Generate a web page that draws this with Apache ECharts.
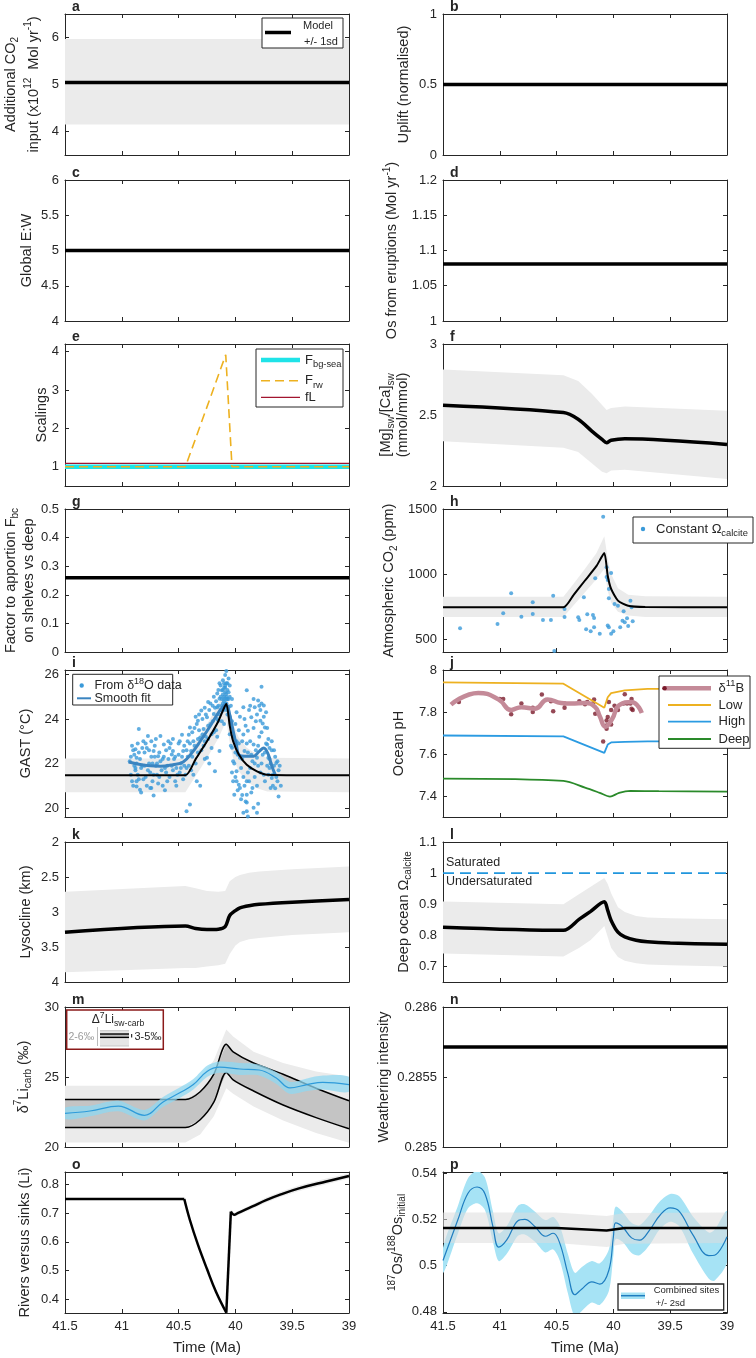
<!DOCTYPE html>
<html><head><meta charset="utf-8">
<script src="https://cdn.jsdelivr.net/npm/echarts@6/dist/echarts.min.js"></script>
<style>html,body{margin:0;padding:0;background:#fff}#c{width:756px;height:1358px}</style>
</head><body><div id="c"></div>
<script>
// ================= DATA =================
const xTicks = [41.5, 41, 40.5, 40, 39.5, 39];
const flatT = [41.5, 39];
// a
const aTicks = [4, 5, 6];
const aModel = [5.04, 5.04];
const aLo = [4.15, 4.15];
const aHi = [5.97, 5.97];
// b
const bTicks = [0, 0.5, 1];
const bModel = [0.5, 0.5];
// c
const cTicks = [4, 4.5, 5, 5.5, 6];
const cModel = [5, 5];
// d
const dTicks = [1, 1.05, 1.1, 1.15, 1.2];
const dModel = [1.081, 1.081];
// e
const eTicks = [1, 2, 3, 4];
const eFbg = [1, 1];
const eFL = [1.09, 1.09];
const eFrwT = [41.5, 40.44, 40.085, 40.03, 39];
const eFrw = [1, 1, 3.92, 1, 1];
// f
const fTicks = [2, 2.5, 3];
const fT = [41.5, 40.44, 40.31, 40.19, 40.1, 40.06, 40.02, 39.9, 39];
const fModel = [2.569, 2.517, 2.47, 2.387, 2.328, 2.305, 2.322, 2.333, 2.293];
const fLo = [2.316, 2.27, 2.24, 2.16, 2.10, 2.09, 2.11, 2.115, 2.05];
const fHi = [2.82, 2.78, 2.74, 2.65, 2.57, 2.535, 2.55, 2.56, 2.53];
// g
const gTicks = [0, 0.1, 0.2, 0.3, 0.4, 0.5];
const gModel = [0.26, 0.26];
// h
const hTicks = [500, 1000, 1500];
const hT = [41.5, 40.44, 40.35, 40.25, 40.15, 40.08, 40.05, 40.02, 39.96, 39.87, 39.72, 39];
const hModel = [744, 744, 840, 950, 1060, 1161, 987, 885, 795, 756, 746, 744];
const hHi = [825, 825, 925, 1040, 1160, 1290, 1120, 1000, 890, 840, 828, 825];
const hLo = [669, 669, 760, 860, 960, 1040, 870, 780, 710, 680, 670, 669];
const hPts = [[41.35,582],[40.9,852],[40.97,698],[41.02,615],[40.81,672],[40.71,782],[40.71,692],[40.62,646],
  [40.55,646],[40.53,833],[40.43,731],[40.43,669],[40.31,667],[40.30,646],[40.26,821],[40.23,690],[40.18,685],
  [40.17,661],[40.16,967],[40.17,590],[40.09,1441],[40.06,1051],[40.06,977],[40.05,954],[40.02,1008],[40.04,885],
  [40.04,813],[39.99,769],[39.96,756],[39.91,713],[39.90,628],[39.92,640],[39.85,795],[39.84,744],[39.88,659],
  [39.83,636],[40.05,603],[40.04,590],[40.52,408],[40.2,560],[40.0,560],[39.94,590],[40.12,540],[40.24,575],
  [40.02,540],[39.87,600]];
// i
const iTicks = [20, 22, 24, 26];
const iT = [41.5, 40.44, 40.35, 40.25, 40.15, 40.08, 40.05, 40.02, 39.97, 39.9, 39.81, 39.72, 39];
const iModel = [21.47, 21.47, 22.2, 23.0, 23.9, 24.68, 23.7, 23.0, 22.41, 21.95, 21.65, 21.5, 21.47];
const iHi = [22.23, 22.23, 22.96, 23.76, 24.66, 25.44, 24.46, 23.76, 23.17, 22.71, 22.41, 22.26, 22.23];
const iLo = [20.71, 20.71, 21.44, 22.24, 23.14, 23.92, 22.94, 22.24, 21.65, 21.19, 20.89, 20.74, 20.71];
const iFitT = [40.94, 40.85, 40.75, 40.66, 40.55, 40.46, 40.38, 40.31, 40.22, 40.16, 40.11, 40.08, 40.05, 40.02, 39.99, 39.97, 39.92, 39.84, 39.79, 39.75, 39.71, 39.68, 39.65];
const iFit = [22.07, 21.97, 21.9, 21.88, 21.95, 22.07, 22.5, 23.0, 23.7, 24.2, 24.55, 24.65, 24.2, 23.47, 22.8, 22.4, 22.33, 22.33, 22.55, 22.7, 22.4, 21.9, 21.5];
const iPts = [[40.85,23.55],[40.88,22.64],[40.87,22.26],[40.88,21.8],[40.87,21.2],[40.87,20.97],[40.84,20.82],
  [40.81,23.0],[40.78,22.7],[40.77,23.24],[40.74,23.0],[40.72,22.56],[40.74,20.9],[40.72,20.56],[40.69,21.5],
  [40.68,22.33],[40.66,23.24],[40.63,22.86],[40.62,21.8],[40.6,21.2],[40.59,23.0],[40.56,22.41],[40.55,22.56],
  [40.53,21.2],[40.52,21.8],[40.49,23.0],[40.47,23.29],[40.46,22.56],[40.44,21.5],[40.43,21.8],[40.41,23.29],
  [40.4,23.62],[40.39,22.56],[40.37,23.0],[40.34,23.77],[40.34,21.2],[40.33,23.92],[40.31,23.17],[40.3,24.38],
  [40.28,23.55],[40.27,23.0],[40.25,24.08],[40.25,22.26],[40.24,24.76],[40.22,23.77],[40.21,23.32],[40.19,24.23],
  [40.18,21.65],[40.16,25.14],[40.16,24.53],[40.15,23.92],[40.14,24.91],[40.14,22.56],[40.12,25.29],[40.11,25.74],
  [40.11,24.38],[40.1,23.77],[40.09,25.97],[40.08,26.15],[40.09,25.5],[40.08,25.12],[40.06,25.82],[40.06,24.53],
  [40.05,25.5],[40.05,23.32],[40.03,22.71],[40.02,22.1],[40.02,21.2],[40.0,23.77],[39.99,23.0],[39.99,21.65],
  [39.97,21.05],[39.96,22.26],[39.94,20.59],[39.93,24.53],[39.92,22.56],[39.9,21.2],[39.9,25.29],[39.89,23.47],
  [39.87,21.8],[39.86,24.08],[39.84,22.86],[39.83,24.53],[39.81,22.26],[39.8,24.83],[39.78,23.92],[39.77,25.45],
  [39.77,24.7],[39.75,24.61],[39.74,23.62],[39.72,22.86],[39.71,22.26],[39.7,21.8],[39.68,21.35],[39.67,21.5],
  [39.65,20.89],[39.64,22.03],[39.62,20.52],
  [40.43,19.86],[40.4,20.16],[39.93,19.79],[39.9,19.86],[39.89,19.62],[39.84,20.01],[39.81,19.79],[39.8,20.2],[39.9,20.25],
  [40.93,22.1],[40.92,21.5],[40.91,22.8],[40.9,21.0],[40.89,22.4],[40.88,21.7],[40.86,22.9],[40.85,21.3],[40.84,22.2],
  [40.83,20.7],[40.82,21.9],[40.8,22.5],[40.79,21.4],[40.78,21.0],[40.76,22.0],[40.75,21.6],[40.74,22.3],[40.73,21.2],
  [40.71,22.8],[40.7,21.9],[40.68,21.1],[40.67,22.5],[40.65,21.7],[40.64,22.2],[40.62,20.8],[40.61,22.6],[40.6,21.9],
  [40.58,21.4],[40.57,22.9],[40.55,21.7],[40.54,22.2],[40.52,21.0],[40.5,22.4],[40.49,21.6],[40.48,22.0],[40.46,21.3],
  [40.45,22.8],
  [40.42,22.3],[40.41,21.9],[40.4,22.9],[40.38,23.4],[40.37,21.5],[40.36,22.8],[40.35,24.1],[40.33,22.5],[40.32,23.5],
  [40.31,21.0],[40.29,24.0],[40.28,22.8],[40.27,24.5],[40.26,23.2],[40.24,23.7],[40.23,22.0],[40.22,24.7],[40.2,23.9],
  [40.19,25.0],[40.18,24.5],[40.17,23.5],[40.16,24.0],[40.15,25.3],[40.14,24.2],[40.13,25.0],[40.12,24.6],[40.11,25.1],
  [40.1,24.9],[40.1,25.4],[40.09,24.7],[40.08,25.0],[40.08,24.4],[40.07,25.6],[40.07,24.9],[40.06,25.2],[40.05,24.1],
  [40.04,23.8],[40.03,21.6],[40.02,23.2],[40.01,20.6],[40.0,22.5],[39.99,21.2],
  [40.1,24.8],[40.09,25.2],[40.1,25.0],[40.08,24.9],[40.11,24.7],[40.09,24.6],[40.07,25.3],[40.1,25.6],[40.12,24.9],
  [39.98,22.4],[39.97,23.5],[39.96,20.9],[39.95,21.8],[39.94,23.0],[39.93,21.4],[39.92,24.0],[39.91,20.3],[39.9,22.9],
  [39.89,21.6],[39.88,24.4],[39.87,23.0],[39.86,20.7],[39.85,22.1],[39.84,23.6],[39.83,21.4],[39.82,22.6],[39.81,24.2],
  [39.8,21.9],[39.79,23.2],[39.78,24.4],[39.77,22.0],[39.76,23.8],[39.75,21.5],[39.74,22.5],[39.73,24.3],[39.72,21.9],
  [39.71,23.1],[39.7,22.2],[39.69,20.9],[39.68,22.6],[39.66,21.9],[39.65,22.3],[39.63,21.2],[39.62,21.7],
  [40.92,22.3],[40.91,21.2],[40.9,22.6],[40.89,21.9],[40.87,22.0],[40.86,21.5],[40.85,22.5],[40.83,21.8],[40.82,22.7],
  [40.81,21.3],[40.8,21.9],[40.79,22.9],[40.77,21.7],[40.76,22.6],[40.75,20.9],[40.73,22.0],[40.72,21.5],[40.71,22.3],
  [40.7,23.1],[40.69,22.0],[40.67,21.4],[40.66,22.1],[40.64,21.0],[40.63,22.3],[40.61,21.6],[40.59,22.2],[40.58,22.7],
  [40.56,21.9],[40.55,23.1],[40.53,22.3],[40.51,21.5],[40.5,22.9],[40.48,21.8],[40.47,22.3],[40.45,21.9],
  [40.43,22.6],[40.42,23.0],[40.39,21.7],[40.38,22.3],[40.36,23.6],[40.35,22.0],[40.33,23.1],[40.32,24.2],[40.3,22.6],
  [40.29,23.3],[40.27,22.2],[40.26,24.2],[40.24,23.1],[40.23,24.4],[40.21,22.7],[40.2,24.6],[40.19,23.4],[40.17,24.8],
  [40.16,23.2],[40.15,24.6],[40.14,25.6],[40.13,24.4],[40.12,23.9],[40.13,25.5],
  [40.11,25.3],[40.1,24.5],[40.09,25.4],[40.08,24.7],[40.08,25.6],[40.07,24.2],[40.06,24.9],[40.05,25.0],[40.04,24.6],
  [40.03,23.9],[40.04,22.8],[40.03,24.9],
  [40.01,22.0],[40.0,21.4],[39.99,24.3],[39.98,20.8],[39.97,22.9],[39.96,24.1],[39.95,20.4],[39.94,22.2],[39.93,23.3],
  [39.92,21.0],[39.91,23.7],[39.9,20.6],[39.89,22.5],[39.88,21.2],[39.87,24.6],[39.86,22.4],[39.85,20.9],[39.84,24.9],
  [39.83,22.0],[39.82,23.9],[39.81,21.0],[39.8,22.8],[39.79,24.6],[39.78,21.6],[39.77,23.4],[39.76,22.4],[39.75,24.1],
  [39.74,21.2],[39.73,22.9],[39.72,23.6],[39.71,21.5],[39.7,22.7],[39.69,22.0],[39.68,23.0],[39.67,21.0],[39.66,22.6],
  [39.64,21.4],[39.63,22.1],[39.61,21.9],[39.6,21.0]];
// j
const jTicks = [7.4, 7.6, 7.8, 8];
const jLHT = [41.5, 40.44, 40.08, 40.05, 40.02, 39.9, 39.7, 39];
const jLow = [7.941, 7.935, 7.82, 7.87, 7.89, 7.903, 7.91, 7.91];
const jHigh = [7.688, 7.684, 7.605, 7.645, 7.655, 7.658, 7.66, 7.66];
const jDeepT = [41.5, 40.44, 40.25, 40.12, 40.03, 39.95, 39.85, 39.6, 39];
const jDeep = [7.483, 7.472, 7.44, 7.415, 7.397, 7.415, 7.424, 7.423, 7.421];
const jBT = [41.43, 41.19, 41.01, 40.9, 40.81, 40.69, 40.58, 40.46, 40.37, 40.25, 40.16, 40.12, 40.07, 40.01, 39.95, 39.84, 39.75];
const jB = [7.835, 7.891, 7.86, 7.81, 7.823, 7.816, 7.86, 7.843, 7.84, 7.843, 7.823, 7.78, 7.73, 7.768, 7.832, 7.848, 7.795];
const jBPts = [[41.36,7.848],[41.0,7.862],[40.97,7.862],[40.9,7.789],[40.81,7.84],[40.71,7.82],[40.71,7.80],
  [40.63,7.883],[40.55,7.851],[40.53,7.803],[40.43,7.84],[40.43,7.82],[40.30,7.851],[40.25,7.837],[40.23,7.848],
  [40.18,7.84],[40.17,7.86],[40.16,7.792],[40.09,7.66],[40.06,7.76],[40.06,7.736],[40.06,7.72],[40.05,7.776],
  [40.04,7.848],[40.02,7.81],[40.02,7.74],[39.99,7.83],[39.96,7.81],[39.91,7.84],[39.9,7.885],[39.88,7.84],
  [39.85,7.84],[39.84,7.815],[39.83,7.81],[39.84,7.862]];
// k
const kTicks = [2, 2.5, 3, 3.5, 4];
const kT = [41.5, 40.44, 40.35, 40.25, 40.15, 40.09, 40.05, 40.0, 39.96, 39.88, 39.79, 39.5, 39];
const kModel = [3.29, 3.2, 3.235, 3.25, 3.245, 3.21, 3.05, 2.98, 2.94, 2.91, 2.89, 2.86, 2.82];
const kLo = [2.71, 2.63, 2.66, 2.70, 2.71, 2.70, 2.56, 2.5, 2.47, 2.44, 2.42, 2.39, 2.35];
const kHi = [3.86, 3.80, 3.80, 3.78, 3.76, 3.74, 3.6, 3.48, 3.43, 3.39, 3.37, 3.33, 3.29];
// l
const lTicks = [0.7, 0.8, 0.9, 1, 1.1];
const lSat = [1, 1];
const lT = [41.5, 40.44, 40.3, 40.2, 40.08, 40.05, 40.02, 39.96, 39.9, 39.8, 39.7, 39.5, 39];
const lModel = [0.826, 0.816, 0.852, 0.877, 0.908, 0.88, 0.848, 0.81, 0.795, 0.784, 0.779, 0.775, 0.771];
const lHi = [0.909, 0.90, 0.933, 0.956, 0.984, 0.965, 0.935, 0.89, 0.875, 0.862, 0.857, 0.855, 0.852];
const lLo = [0.742, 0.732, 0.76, 0.785, 0.83, 0.795, 0.76, 0.73, 0.718, 0.71, 0.706, 0.704, 0.70];
// m
const mTicks = [20, 25, 30];
const mT = [41.5, 40.44, 40.31, 40.19, 40.08, 40.02, 39.84, 39.58, 39.29, 39];
const mUpper = [23.4, 23.4, 23.95, 25.2, 27.34, 26.8, 26.0, 25.2, 24.2, 23.3];
const mLower = [21.4, 21.4, 21.95, 23.2, 25.33, 24.8, 24.0, 23.0, 22.1, 21.3];
const mOutHi = [24.38, 24.38, 24.9, 26.2, 28.4, 27.9, 26.8, 26.0, 25.4, 25.04];
const mOutLo = [20.33, 20.33, 20.9, 22.2, 24.2, 23.8, 22.9, 21.9, 21.0, 20.3];
const mLiT = [41.5, 41.28, 41.03, 40.8, 40.64, 40.49, 40.37, 40.25, 40.14, 39.96, 39.79, 39.64, 39.52, 39.37, 39.23, 39];
const mLi = [22.4, 22.57, 22.92, 22.26, 23.2, 23.87, 24.46, 25.4, 25.7, 25.57, 25.5, 24.93, 24.22, 24.46, 24.62, 24.46];
const mLiLo = [22.0, 22.2, 22.55, 21.9, 22.85, 23.5, 24.1, 25.0, 25.3, 25.15, 25.1, 24.5, 23.8, 24.0, 24.1, 23.95];
const mLiHi = [22.8, 22.95, 23.3, 22.65, 23.55, 24.25, 24.85, 25.8, 26.1, 26.0, 25.9, 25.35, 24.65, 24.9, 25.1, 25.0];
// n
const nTicks = [0.285, 0.2855, 0.286];
const nModel = [0.285714, 0.285714];
// o
const oTicks = [0.4, 0.5, 0.6, 0.7, 0.8];
const oFlatT = [41.5, 40.45];
const oFlat = [0.749, 0.749];
const oDropT = [40.45, 40.4, 40.33, 40.25, 40.17, 40.08];
const oDrop = [0.749, 0.675, 0.59, 0.505, 0.425, 0.353];
const oJumpT = [40.08, 40.04];
const oJump = [0.353, 0.705];
const oRiseT = [40.04, 40.01, 39.98, 39.85, 39.73, 39.6, 39.44, 39.2, 39];
const oRise = [0.705, 0.694, 0.7, 0.723, 0.745, 0.765, 0.786, 0.81, 0.829];
const oBT = [40.04, 40.01, 39.85, 39.73, 39.6, 39.44, 39.2, 39];
const oLo = [0.699, 0.687, 0.715, 0.737, 0.757, 0.777, 0.8, 0.82];
const oHi = [0.712, 0.701, 0.731, 0.754, 0.774, 0.796, 0.82, 0.838];
// p
const pTicks = [0.48, 0.5, 0.52, 0.54];
const pT = [41.5, 41.37, 41.28, 41.2, 41.13, 41.06, 41.01, 40.94, 40.84, 40.78, 40.69, 40.6, 40.53, 40.47, 40.4, 40.34, 40.28, 40.19, 40.12, 40.04, 40.0, 39.98, 39.92, 39.84, 39.77, 39.68, 39.59, 39.5, 39.42, 39.3, 39.16, 39.11, 39.0];
const pOs = [0.5022, 0.5197, 0.5313, 0.534, 0.531, 0.5168, 0.508, 0.511, 0.5194, 0.520, 0.5168, 0.5127, 0.514, 0.5094, 0.4964, 0.4874, 0.4898, 0.493, 0.492, 0.498, 0.5125, 0.5185, 0.5168, 0.512, 0.511, 0.5155, 0.5218, 0.525, 0.5235, 0.5133, 0.5043, 0.5045, 0.5125];
const pLo = [0.4967, 0.5137, 0.5248, 0.527, 0.524, 0.5103, 0.502, 0.505, 0.5129, 0.5135, 0.5103, 0.5057, 0.507, 0.5019, 0.4879, 0.4779, 0.4803, 0.484, 0.483, 0.489, 0.5045, 0.5115, 0.5103, 0.5055, 0.5045, 0.509, 0.5158, 0.519, 0.517, 0.5053, 0.4943, 0.4935, 0.5015];
const pHi = [0.5077, 0.5257, 0.5378, 0.541, 0.538, 0.5233, 0.514, 0.517, 0.5259, 0.5265, 0.5233, 0.5197, 0.521, 0.5169, 0.5049, 0.4969, 0.4993, 0.502, 0.501, 0.507, 0.5205, 0.5255, 0.5233, 0.5185, 0.5175, 0.522, 0.5278, 0.531, 0.53, 0.5213, 0.5143, 0.5155, 0.5235];
const pGT = [41.5, 40.5, 40.06, 39.9, 39];
const pModel = [0.5163, 0.5163, 0.5152, 0.5163, 0.5163];
const pGLo = [0.5098, 0.5098, 0.508, 0.5095, 0.5098];
const pGHi = [0.523, 0.523, 0.5215, 0.5228, 0.523];

// ================= LAYOUT / STYLE =================
const FF = '"Liberation Sans", Arial, Helvetica, sans-serif';
const AX = '#262626';
const GRAY = '#EBEBEB';
const ROWS = [[14,141],[180,141],[344,142],[509,143],[670,147],[842,140],[1007,140],[1172,141]];
const COLS = [65, 443];
const PW = 284;
const YCFG = [
  {min:3.5, max:6.5, ticks:aTicks}, {min:0, max:1, ticks:bTicks},
  {min:4, max:6, ticks:cTicks}, {min:1, max:1.2, ticks:dTicks},
  {min:0.5, max:4.2, ticks:eTicks}, {min:2, max:3, ticks:fTicks},
  {min:0, max:0.5, ticks:gTicks}, {min:400, max:1500, ticks:hTicks},
  {min:19.6, max:26.2, ticks:iTicks}, {min:7.3, max:8, ticks:jTicks},
  {min:2, max:4, ticks:kTicks, inverse:true}, {min:0.65, max:1.1, ticks:lTicks},
  {min:20, max:30, ticks:mTicks}, {min:0.285, max:0.286, ticks:nTicks},
  {min:0.352, max:0.843, ticks:oTicks}, {min:0.4795, max:0.5405, ticks:pTicks}
];
const fmt = v => String(+(+v).toFixed(6));

const grid = [], xAxis = [], yAxis = [];
for (let p = 0; p < 16; p++) {
  const r = p >> 1, c = p & 1;
  grid.push({left: COLS[c], top: ROWS[r][0], width: PW, height: ROWS[r][1], containLabel: false, outerBoundsMode: 'none'});
  ['bottom', 'top'].forEach(pos => {
    const showLab = pos === 'bottom' && r === 7;
    xAxis.push({gridIndex: p, type: 'value', position: pos, min: 39, max: 41.5, inverse: true,
      axisLine: {show: true, onZero: false, lineStyle: {color: AX, width: 1}},
      axisTick: {show: true, inside: true, length: 4, customValues: xTicks, lineStyle: {color: AX, width: 1}},
      axisLabel: {show: showLab, customValues: xTicks, margin: 7, fontSize: 13, color: AX, fontFamily: FF, formatter: fmt},
      splitLine: {show: false},
      name: showLab ? 'Time (Ma)' : '', nameLocation: 'middle', nameGap: 27,
      nameTextStyle: {fontSize: 15, color: AX, fontFamily: FF}});
  });
  const y = YCFG[p];
  ['left', 'right'].forEach(pos => {
    yAxis.push({gridIndex: p, type: 'value', position: pos, min: y.min, max: y.max, inverse: !!y.inverse,
      axisLine: {show: true, onZero: false, lineStyle: {color: AX, width: 1}},
      axisTick: {show: true, inside: true, length: 4, customValues: y.ticks, lineStyle: {color: AX, width: 1}},
      axisLabel: {show: pos === 'left', customValues: y.ticks, margin: 6, fontSize: 13, color: AX, fontFamily: FF, formatter: fmt},
      splitLine: {show: false}});
  });
}

// ================= SERIES =================
const series = [];
const zip = (xs, ys) => xs.map((x, k) => [x, ys[k]]);
function addLine(p, xs, ys, color, width, extra) {
  series.push(Object.assign({type: 'line', xAxisIndex: 2*p, yAxisIndex: 2*p, data: zip(xs, ys),
    symbol: 'none', showSymbol: false, lineStyle: {color: color, width: width}, z: 4, silent: true}, extra || {}));
}
// band between lo and hi, drawn as one polygon via the axis scales (api.coord)
function addBand(p, xs, lo, hi, color, opacity, z, smooth) {
  series.push({type: 'custom', xAxisIndex: 2*p, yAxisIndex: 2*p, z: z || 1, silent: true, clip: true,
    data: xs.map((x, k) => [x, lo[k], hi[k]]),
    encode: {x: 0, y: [1, 2]},
    renderItem: function (params, api) {
      if (params.dataIndex !== 0) return null;
      const up = xs.map((x, k) => api.coord([x, hi[k]]));
      const dn = xs.map((x, k) => api.coord([x, lo[k]])).reverse();
      return {type: 'polygon', shape: {points: up.concat(dn), smooth: smooth || 0},
        style: {fill: color, opacity: opacity == null ? 1 : opacity}};
    }});
}
function addScatter(p, pts, color, size) {
  series.push({type: 'scatter', xAxisIndex: 2*p, yAxisIndex: 2*p, data: pts, symbolSize: size,
    itemStyle: {color: color}, z: 3, silent: true});
}
// a
addBand(0, flatT, aLo, aHi, GRAY);
addLine(0, flatT, aModel, '#000', 3.5);
// b, c, d
addLine(1, flatT, bModel, '#000', 3.5);
addLine(2, flatT, cModel, '#000', 3.5);
addLine(3, flatT, dModel, '#000', 3.5);
// e
addLine(4, flatT, eFbg, '#1FE3E8', 4.5);
addLine(4, flatT, eFL, '#A2142F', 1.2);
addLine(4, eFrwT, eFrw, '#EDB120', 1.6, {lineStyle: {color: '#EDB120', width: 1.6, type: [9, 5]}});
// f
addBand(5, fT, fLo, fHi, GRAY);
addLine(5, fT, fModel, '#000', 3.5, {smooth: 0.3});
// g
addLine(6, flatT, gModel, '#000', 3.5);
// h
addBand(7, hT, hLo, hHi, GRAY);
addScatter(7, hPts, '#3A9AD9', 4);
addLine(7, hT, hModel, '#000', 2, {smooth: 0.2});
// i
addBand(8, iT, iLo, iHi, GRAY);
addScatter(8, iPts, '#3A9AD9', 4);
addLine(8, iFitT, iFit, '#3A84C0', 3, {smooth: 0.4});
addLine(8, iT, iModel, '#000', 2, {smooth: 0.2});
// j
addLine(9, jLHT, jLow, '#EDB120', 1.8);
addLine(9, jLHT, jHigh, '#2B9BE2', 1.8);
addLine(9, jDeepT, jDeep, '#2A8A2A', 1.8, {smooth: 0.3});
addLine(9, jBT, jB, '#C48A98', 4.5, {smooth: 0.5});
addScatter(9, jBPts, '#7A1A2B', 4.5);
// k
addBand(10, kT, kLo, kHi, GRAY);
addLine(10, kT, kModel, '#000', 3.5, {smooth: 0.3});
// l
addBand(11, lT, lLo, lHi, GRAY);
addLine(11, flatT, lSat, '#2196DD', 1.6, {lineStyle: {color: '#2196DD', width: 1.6, type: [11, 6]}});
addLine(11, lT, lModel, '#000', 3.5, {smooth: 0.3});
// m
addBand(12, mT, mOutLo, mOutHi, GRAY, 1, 1);
addBand(12, mT, mLower, mUpper, '#C4C4C4', 1, 2);
addLine(12, mT, mUpper, '#000', 1.5, {smooth: 0.3});
addLine(12, mT, mLower, '#000', 1.5, {smooth: 0.3});
addBand(12, mLiT, mLiLo, mLiHi, '#8FD8F2', 0.75, 5, 0.3);
addLine(12, mLiT, mLi, '#2E9BDA', 1.2, {smooth: 0.4, z: 6});
// n
addLine(13, flatT, nModel, '#000', 3.5);
// o
addBand(14, oBT, oLo, oHi, GRAY);
addLine(14, oFlatT, oFlat, '#000', 2.5);
addLine(14, oDropT, oDrop, '#000', 2.5, {smooth: 0.4});
addLine(14, oJumpT, oJump, '#000', 2.5);
addLine(14, oRiseT, oRise, '#000', 2.5, {smooth: 0.4});
// p
addBand(15, pT, pLo, pHi, '#A6E3F5', 1, 1, 0.3);
addBand(15, pGT, pGLo, pGHi, '#DCDCDC', 0.55, 2);
addLine(15, pT, pOs, '#1E7DC0', 1.2, {smooth: 0.4});
addLine(15, pGT, pModel, '#000', 2.5);

// ================= GRAPHIC (titles, letters, legends) =================
const G = [];
const RICH = {
  n: {fontSize: 14.5, lineHeight: 20, fontFamily: FF, fill: AX},
  b: {fontSize: 10, lineHeight: 10, verticalAlign: 'bottom', fontFamily: FF, fill: AX},
  t: {fontSize: 10, lineHeight: 10, verticalAlign: 'top', fontFamily: FF, fill: AX}
};
function richSet(sz) {
  return {
    n: {fontSize: sz, lineHeight: sz + 5, fontFamily: FF, fill: AX},
    b: {fontSize: sz * 0.72, lineHeight: sz * 0.72, verticalAlign: 'bottom', fontFamily: FF, fill: AX},
    t: {fontSize: sz * 0.72, lineHeight: sz * 0.72, verticalAlign: 'top', fontFamily: FF, fill: AX},
    g: {fontSize: sz, lineHeight: sz + 5, fontFamily: FF, fill: '#9A9A9A'}
  };
}
function ytitle(x, y, text) {
  G.push({type: 'text', x: x, y: y, rotation: Math.PI / 2, z: 100, silent: true,
    style: {text: text, rich: RICH, align: 'center', verticalAlign: 'middle', fontFamily: FF, fontSize: 14.5, fill: AX}});
}
function tx(x, y, text, sz, align, extra) {
  G.push({type: 'text', x: x, y: y, z: 102, silent: true,
    style: Object.assign({text: text, rich: richSet(sz), align: align || 'left', verticalAlign: 'middle',
      fontFamily: FF, fontSize: sz, fill: AX}, extra || {})});
}
function box(x, y, w, h, stroke, lw) {
  G.push({type: 'rect', shape: {x: x, y: y, width: w, height: h}, z: 100, silent: true,
    style: {fill: '#fff', stroke: stroke || AX, lineWidth: lw || 1}});
}
function rectF(x, y, w, h, fill) {
  G.push({type: 'rect', shape: {x: x, y: y, width: w, height: h}, z: 101, silent: true, style: {fill: fill}});
}
function seg(x1, y1, x2, y2, color, w, dash) {
  G.push({type: 'line', shape: {x1: x1, y1: y1, x2: x2, y2: y2}, z: 102, silent: true,
    style: {stroke: color, lineWidth: w, lineDash: dash || null}});
}
function dot(cx, cy, r, color) {
  G.push({type: 'circle', shape: {cx: cx, cy: cy, r: r}, z: 103, silent: true, style: {fill: color}});
}
// panel letters
const LETTERS = 'abcdefghijklmnop';
for (let p = 0; p < 16; p++) {
  const r = p >> 1, c = p & 1;
  G.push({type: 'text', x: COLS[c] + 7, y: ROWS[r][0] + 0.5, z: 100, silent: true,
    style: {text: LETTERS[p], fontSize: 14, fontWeight: 'bold', fontFamily: FF, fill: AX, align: 'left', verticalAlign: 'bottom'}});
}
const MID = r => ROWS[r][0] + ROWS[r][1] / 2;
ytitle(10.5, MID(0), '{n|Additional CO}{b|2}');
ytitle(33.5, MID(0), '{n|input (x10}{t|12}{n|  Mol yr}{t|-1}{n|)}');
ytitle(403.5, MID(0), '{n|Uplift (normalised)}');
ytitle(27, MID(1), '{n|Global E:W}');
ytitle(392, MID(1), '{n|Os from eruptions (Mol yr}{t|-1}{n|)}');
ytitle(42.3, MID(2), '{n|Scalings}');
ytitle(386, MID(2), '{n|[Mg]}{b|sw}{n|/[Ca]}{b|sw}');
ytitle(403, MID(2), '{n|(mmol/mmol)}');
ytitle(10.5, MID(3), '{n|Factor to apportion F}{b|bc}');
ytitle(28.6, MID(3), '{n|on shelves vs deep}');
ytitle(389, MID(3), '{n|Atmospheric CO}{b|2}{n| (ppm)}');
ytitle(25.6, MID(4), '{n|GAST (°C)}');
ytitle(398.6, MID(4), '{n|Ocean pH}');
ytitle(25.6, MID(5), '{n|Lysocline (km)}');
ytitle(403.6, MID(5), '{n|Deep ocean Ω}{b|calcite}');
ytitle(23.5, MID(6), '{n|δ}{t|7}{n|Li}{b|carb}{n| (‰)}');
ytitle(383.6, MID(6), '{n|Weathering intensity}');
ytitle(24.6, MID(7), '{n|Rivers versus sinks (Li)}');
ytitle(397.5, MID(7), '{t|187}{n|Os/}{t|188}{n|Os}{b|initial}');

// legend a
box(262, 18, 81, 30);
seg(265, 32.5, 291, 32.5, '#000', 3.5);
tx(318, 26, '{n|Model}', 11, 'center');
tx(321, 41.5, '{n|+/- 1sd}', 11, 'center');
// legend e
box(256, 349, 87, 58);
seg(261, 360, 300, 360, '#1FE3E8', 4.5);
tx(305, 360, '{n|F}{b|bg-sea}', 13);
seg(261, 380.7, 300, 380.7, '#EDB120', 1.6, [9, 5]);
tx(305, 380.7, '{n|F}{b|rw}', 13);
seg(261, 397.3, 300, 397.3, '#A2142F', 1.2);
tx(305, 397.3, '{n|fL}', 13);
// legend h
box(633, 517, 120, 26);
dot(643, 529, 2.2, '#3A9AD9');
tx(656, 529, '{n|Constant Ω}{b|calcite}', 13);
// legend i
box(72.7, 674.3, 100, 30.7);
dot(81.7, 685.5, 2.2, '#3A9AD9');
tx(94.5, 685.5, '{n|From δ}{t|18}{n|O data}', 12.5);
seg(77, 698.3, 91, 698.3, '#3A84C0', 2);
tx(94.5, 698.3, '{n|Smooth fit}', 12.5);
// legend j
box(659, 676, 91, 72.3);
seg(665, 688.3, 711, 688.3, '#C48A98', 4.5);
dot(664.5, 688.3, 2.3, '#7A1A2B');
tx(718.5, 688.3, '{n|δ}{t|11}{n|B}', 13);
seg(668, 705, 711, 705, '#EDB120', 1.8);
tx(718.5, 705, '{n|Low}', 13);
seg(668, 721.7, 711, 721.7, '#2B9BE2', 1.8);
tx(718.5, 721.7, '{n|High}', 13);
seg(668, 739, 711, 739, '#2A8A2A', 1.8);
tx(718.5, 739, '{n|Deep}', 13);
// l annotations
tx(446, 863, '{n|Saturated}', 12.5);
tx(446, 882, '{n|Undersaturated}', 12.5);
// legend m
box(66.7, 1010, 96.6, 39.3, '#8B1A1A', 1.5);
tx(118, 1020, '{n|Δ}{t|7}{n|Li}{b|sw-carb}', 12, 'center');
tx(68.5, 1037, '{g|2-6‰}', 10.5);
seg(97.5, 1027, 97.5, 1046, '#BBBBBB', 1);
rectF(100, 1030.5, 29, 15.5, '#E6E6E6');
seg(100, 1030.7, 129, 1030.7, '#BDBDBD', 0.8);
seg(100, 1046, 129, 1046, '#BDBDBD', 0.8);
rectF(100, 1034, 29, 3.5, '#BDBDBD');
seg(100, 1034, 129, 1034, '#000', 1.4);
seg(100, 1037.4, 129, 1037.4, '#000', 1.4);
seg(131.7, 1034, 131.7, 1037.5, '#000', 1);
tx(134.5, 1037, '{n|3-5‰}', 11);
// legend p
box(618, 1284, 105.7, 26, AX, 1.3);
rectF(621, 1292.5, 24, 6.5, '#A6E3F5');
seg(621, 1295.7, 645, 1295.7, '#1E7DC0', 1.5);
tx(653.7, 1290.7, '{n|Combined sites}', 9.5);
tx(655.7, 1303, '{n|+/- 2sd}', 9.5);

const option = {
  animation: false,
  backgroundColor: '#fff',
  textStyle: {fontFamily: FF},
  grid: grid, xAxis: xAxis, yAxis: yAxis, series: series,
  graphic: {elements: G}
};
const chart = echarts.init(document.getElementById('c'), null, {renderer: 'canvas', width: 756, height: 1358});
chart.setOption(option);
</script>
</body></html>
